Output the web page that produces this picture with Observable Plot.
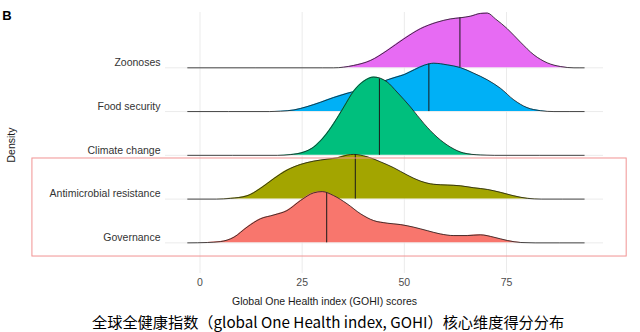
<!DOCTYPE html>
<html><head><meta charset="utf-8">
<script src="https://cdn.jsdelivr.net/npm/d3@7"></script>
<script src="https://cdn.jsdelivr.net/npm/@observablehq/plot@0.6"></script>
<style>
html,body{margin:0;padding:0;background:#fff;}
#wrap{position:relative;width:640px;height:332px;overflow:hidden;font-family:"Liberation Sans",Arial,sans-serif;}
#caption{position:absolute;left:92px;top:309px;height:24px;line-height:24px;font-family:"Noto Sans CJK SC",sans-serif;font-size:15.2px;color:#000;white-space:nowrap;}
</style></head><body>
<div id="wrap"><div id="chart"></div><div id="caption">全球全健康指数（global One Health index, GOHI）核心维度得分分布</div></div>
<script>
// ---- data ----
const categories = ["Governance", "Antimicrobial resistance", "Climate change", "Food security", "Zoonoses"];
const medians = [31.0, 38.0, 43.9, 56.0, 63.6];
const xTicks = [0, 25, 50, 75];

// [score, density]
const governance = [[-3,0],[1.8,0.0002],[5,0.0007],[8.3,0.0031],[11.5,0.0086],[14.8,0.0132],[18.1,0.0153],[21.3,0.0177],[24.6,0.0232],[27.8,0.0274],[29.9,0.0281],[32.7,0.0259],[36,0.0214],[39.3,0.0159],[42.5,0.0122],[45.8,0.0108],[49.1,0.0100],[52.3,0.0086],[55.6,0.0067],[58.8,0.0049],[62.1,0.0040],[65.4,0.0040],[68.6,0.0044],[71.9,0.0031],[75.2,0.0013],[78.5,0.0002],[82,0],[94,0]];
const antimicrobial = [[-3,0],[4,0],[7.5,0.0004],[11.5,0.0018],[14.8,0.0059],[18.1,0.0113],[21.3,0.0159],[24.6,0.0190],[27.8,0.0208],[31.1,0.0219],[33.6,0.0226],[36,0.0241],[37.6,0.0245],[40.9,0.0232],[44.2,0.0204],[47.4,0.0172],[50.7,0.0132],[53.9,0.0099],[57.2,0.0081],[60.5,0.0077],[63.7,0.0073],[67,0.0062],[70.3,0.0053],[73.5,0.0037],[76.8,0.0018],[80.1,0.0004],[83.5,0],[94,0]];
const climate = [[-3,0],[19,0],[22.1,0.0004],[25.4,0.0018],[27.8,0.0045],[30.3,0.0100],[32.7,0.0174],[35.2,0.0265],[37.6,0.0352],[40.1,0.0407],[42.5,0.0429],[45.8,0.0402],[48.2,0.0347],[51.5,0.0265],[54.8,0.0174],[58,0.0100],[61.3,0.0045],[64.5,0.0013],[68.6,0.0002],[72,0],[94,0]];
const food = [[-3,0],[17,0],[19.7,0.0002],[23,0.0009],[26.2,0.0027],[29.5,0.0051],[32.7,0.0077],[36,0.0100],[38.5,0.0115],[41,0.0134],[44,0.0159],[46,0.0175],[48,0.0189],[50,0.0203],[52.5,0.0230],[55,0.0255],[57.2,0.0265],[60.5,0.0256],[63.7,0.0241],[67,0.0210],[70.3,0.0174],[73.5,0.0128],[76.8,0.0064],[80,0.0022],[83.3,0.0005],[86.6,0],[94,0]];
const zoonoses = [[-3,0],[30,0],[32.7,0],[37.6,0.0013],[41.7,0.0040],[45.8,0.0095],[49.9,0.0159],[53.9,0.0214],[58,0.0250],[61.3,0.0268],[63.6,0.0274],[66.2,0.0283],[68.6,0.0298],[70.3,0.0300],[72.3,0.0268],[75.2,0.0214],[78.4,0.0141],[81.7,0.0071],[85,0.0027],[88.2,0.0007],[91.5,0],[94,0]];
const densities = [governance, antimicrobial, climate, food, zoonoses];

// ---- styling ----
const palette = ["#F8766D", "#A3A500", "#00BF7D", "#00B0F6", "#E76BF3"];
const K = 41.7; // ridge height: rows per density unit

function interp(pts, x) {
  for (let i = 1; i < pts.length; i++) {
    if (pts[i][0] >= x) {
      const [x0, y0] = pts[i - 1], [x1, y1] = pts[i];
      return y0 + (y1 - y0) * (x - x0) / (x1 - x0);
    }
  }
  return 0;
}

const marks = [
  Plot.ruleX(xTicks, {stroke: "#EBEBEB", strokeWidth: 1}),
  Plot.ruleY(d3.range(categories.length), {stroke: "#EBEBEB", strokeWidth: 1})
];

for (let i = categories.length - 1; i >= 0; i--) {
  const pts = densities[i].map(([score, density]) => ({score, density, row: i}));
  marks.push(
    Plot.areaY(pts, {x: "score", y1: "row", y2: d => d.row + d.density * K, fill: palette[i], curve: "monotone-x"}),
    Plot.lineY(pts, {x: "score", y: d => d.row + d.density * K, stroke: "#1a1a1a", strokeWidth: 0.8, curve: "monotone-x"}),
    Plot.ruleX([medians[i]], {x: d => d, y1: i, y2: i + interp(densities[i], medians[i]) * K, stroke: "#1a1a1a", strokeWidth: 1})
  );
}

// highlight box around the lower two ridges
marks.push(Plot.rect([{x1: -41, x2: 104.4, y1: -0.312, y2: 1.928}], {x1: "x1", x2: "x2", y1: "y1", y2: "y2", fill: "none", stroke: "#F19393", strokeWidth: 1, clip: false}));

marks.push(
  Plot.axisX(xTicks, {tickSize: 0, tickPadding: 5, label: null, fontSize: 10.5, fill: "#4D4D4D"}),
  Plot.axisY(d3.range(categories.length), {tickSize: 0, tickPadding: 5, dy: -5, label: null, tickFormat: i => categories[i], fontSize: 10.5, fill: "#333"})
);

const chart = Plot.plot({
  width: 640,
  height: 308,
  marginLeft: 165,
  marginRight: 37,
  marginTop: 12,
  marginBottom: 35,
  style: {fontFamily: "Liberation Sans, Arial, sans-serif", fontSize: "10.5px", background: "white", overflow: "visible"},
  x: {domain: [-8.44, 98.73]},
  y: {domain: [-0.70, 5.264]},
  marks
});
document.getElementById("chart").appendChild(chart);

const svg = d3.select(chart);
svg.append("text").attr("x", 7).attr("y", 20).attr("font-weight", "bold").attr("font-size", 13).attr("fill", "#000").text("B");
svg.append("text").attr("transform", "translate(15,145) rotate(-90)").attr("text-anchor", "middle").attr("font-size", 10.5).attr("fill", "#1a1a1a").text("Density");
svg.append("text").attr("x", 324.5).attr("y", 305).attr("text-anchor", "middle").attr("font-size", 10.5).attr("fill", "#1a1a1a").text("Global One Health index (GOHI) scores");
</script>
</body></html>
